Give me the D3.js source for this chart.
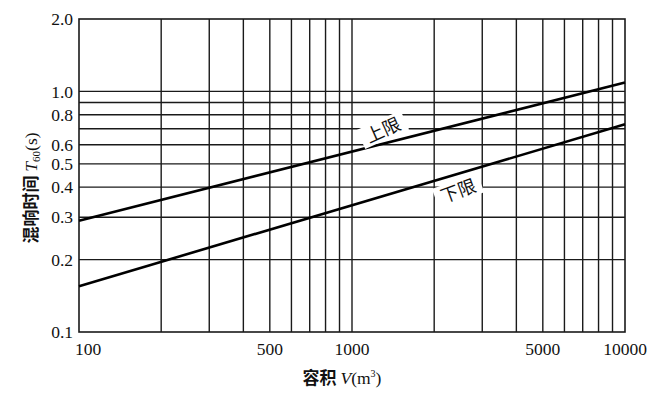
<!DOCTYPE html>
<html>
<head>
<meta charset="utf-8">
<script src="https://cdn.jsdelivr.net/npm/d3@7"></script>
<style>
  html, body { margin: 0; padding: 0; background: #fff; }
  svg { display: block; }
  .num { font-family: "Liberation Serif", "DejaVu Serif", serif; font-size: 17.5px; fill: #111; }
  .cjk { font-family: "Noto Sans CJK SC", sans-serif; fill: #111; }
</style>
</head>
<body>
<div id="chart"></div>
<script>
// 坐标轴刻度
const xTicks = [100, 500, 1000, 5000, 10000]
const yTicks = [0.1, 0.2, 0.3, 0.4, 0.5, 0.6, 0.8, 1.0, 2.0]
const xGrid = [200, 300, 400, 500, 600, 700, 800, 900, 1000, 2000, 3000, 4000, 5000, 6000, 7000, 8000, 9000]
const yGrid = [0.2, 0.3, 0.4, 0.5, 0.6, 0.7, 0.8, 0.9, 1.0]

// 上限、下限两条线 (容积 -> 混响时间)
const volumes = [100, 10000]
const upperT = [0.29, 1.09]
const lowerT = [0.155, 0.73]
const labels = [
    {text: "上限", v: 1300, t: 0.69, angle: -24},
    {text: "下限", v: 2450, t: 0.385, angle: -20}
]

const width = 666, height = 394
const margin = {top: 19, right: 41, bottom: 62, left: 79}

const svg = d3.select("#chart").append("svg")
    .attr("width", width)
    .attr("height", height)

const x = d3.scaleLog().domain([100, 10000]).range([margin.left, width - margin.right])
const y = d3.scaleLog().domain([0.1, 2.0]).range([height - margin.bottom, margin.top])

const gridColor = "#1a1a1a"

// 网格
svg.append("g")
    .selectAll("line")
    .data(xGrid)
    .join("line")
    .attr("x1", d => x(d)).attr("x2", d => x(d))
    .attr("y1", y(2.0)).attr("y2", y(0.1))
    .attr("stroke", gridColor)
    .attr("stroke-width", 1.4)

svg.append("g")
    .selectAll("line")
    .data(yGrid)
    .join("line")
    .attr("x1", x(100)).attr("x2", x(10000))
    .attr("y1", d => y(d)).attr("y2", d => y(d))
    .attr("stroke", gridColor)
    .attr("stroke-width", 1.4)

// 边框
svg.append("rect")
    .attr("x", x(100)).attr("y", y(2.0))
    .attr("width", x(10000) - x(100))
    .attr("height", y(0.1) - y(2.0))
    .attr("fill", "none")
    .attr("stroke", gridColor)
    .attr("stroke-width", 1.6)

// 数据线
const line = d3.line().x(d => x(d[0])).y(d => y(d[1]))
;[upperT, lowerT].forEach(series => {
    svg.append("path")
        .datum(volumes.map((v, i) => [v, series[i]]))
        .attr("d", line)
        .attr("fill", "none")
        .attr("stroke", "#000")
        .attr("stroke-width", 2.6)
})

// 线的标注
labels.forEach(l => {
    const g = svg.append("g")
        .attr("transform", `translate(${x(l.v)},${y(l.t)}) rotate(${l.angle})`)
    g.append("rect")
        .attr("x", -24).attr("y", -11)
        .attr("width", 48).attr("height", 21)
        .attr("fill", "#fff")
    g.append("text")
        .attr("class", "cjk")
        .attr("text-anchor", "middle")
        .attr("dy", "0.35em")
        .attr("font-size", 18)
        .text(l.text)
})

// x 轴刻度文字
svg.append("g")
    .selectAll("text")
    .data(xTicks)
    .join("text")
    .attr("class", "num")
    .attr("x", d => d === 100 ? x(d) - 4 : x(d))
    .attr("y", y(0.1) + 23)
    .attr("text-anchor", d => d === 100 ? "start" : "middle")
    .text(d => d)

// y 轴刻度文字
svg.append("g")
    .selectAll("text")
    .data(yTicks)
    .join("text")
    .attr("class", "num")
    .attr("x", x(100) - 6)
    .attr("y", d => y(d))
    .attr("dy", "0.35em")
    .attr("text-anchor", "end")
    .text(d => d.toFixed(1))

// 轴标题
const xt = svg.append("text")
    .attr("x", 342)
    .attr("y", 384)
    .attr("text-anchor", "middle")
    .attr("font-size", 17)
xt.append("tspan").attr("class", "cjk").attr("font-weight", "bold").text("容积 ")
xt.append("tspan").attr("class", "num").attr("font-style", "italic").text("V")
xt.append("tspan").attr("class", "num").text("(m")
xt.append("tspan").attr("class", "num").style("font-size", "10px").attr("dy", -7).text("3")
xt.append("tspan").attr("class", "num").attr("dy", 7).text(")")

const yt = svg.append("text")
    .attr("transform", `translate(37,188) rotate(-90)`)
    .attr("text-anchor", "middle")
    .attr("font-size", 17)
yt.append("tspan").attr("class", "cjk").attr("font-weight", "bold").text("混响时间 ")
yt.append("tspan").attr("class", "num").attr("font-style", "italic").text("T")
yt.append("tspan").attr("class", "num").style("font-size", "11px").attr("dy", 3).text("60")
yt.append("tspan").attr("class", "num").attr("dy", -3).text("(s)")
</script>
</body>
</html>
